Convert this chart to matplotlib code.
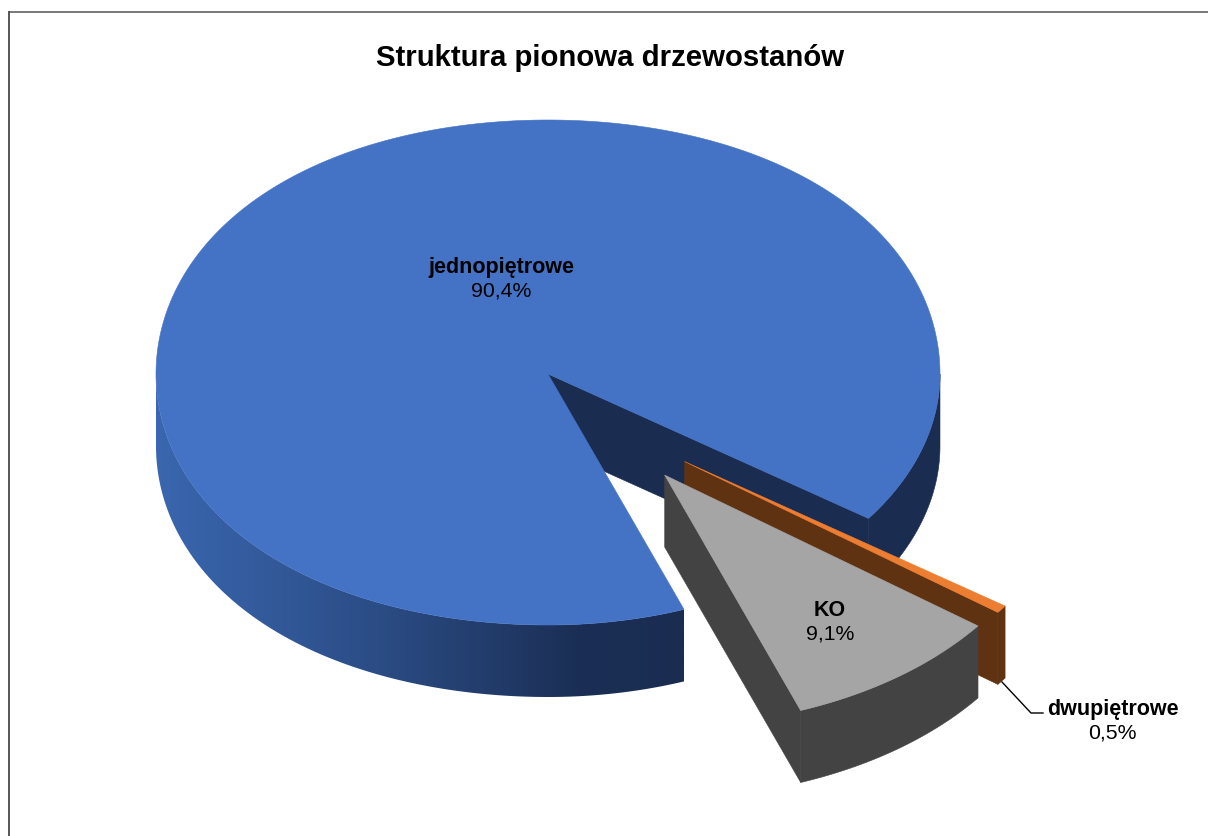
import numpy as np
import matplotlib
matplotlib.use('Agg')
import matplotlib.pyplot as plt
from matplotlib.colors import LinearSegmentedColormap
from matplotlib.patches import Polygon

plt.rcParams['font.family'] = ['Liberation Sans', 'DejaVu Sans']

title = 'Struktura pionowa drzewostanów'
categories = ['jednopiętrowe', 'dwupiętrowe', 'KO']
shares = [90.4, 0.5, 9.1]

# pie geometry, in pixels of the output image
cx, cy = 548.0, 375.0
rx = 392.0
ry_up, ry_low = 254.0, 251.0
depth = 72.0
start_angle = 159.7  # clockwise from 12 o'clock
bulge = 0.014  # rim is a little squarer than an ellipse, except lower right

# exploded slices: distance as a fraction of the radius, and direction
explode = [0.0, 0.49, 0.497]
explode_dir = [0.0, 134.7, 143.2]

blue_top = '#4472C4'
navy = '#1A2C50'
orange_top = '#ED7D31'
brown = '#5F3212'
grey_top = '#A5A5A5'
grey_side = '#434343'


def arc(a0, a1, off=(0.0, 0.0), drop=0.0):
	n = max(int(abs(a1 - a0) * 2), 2)
	deg = np.linspace(a0, a1, n)
	ang = np.radians(deg)
	wrapped = deg % 360.0
	r = 1.0 + bulge * np.sin(2 * ang) ** 2 * ((wrapped < 90.0) | (wrapped > 180.0))
	ry = np.where(np.cos(ang) < 0, ry_low, ry_up)
	x = cx + off[0] + rx * r * np.sin(ang)
	y = cy + off[1] + drop - ry * r * np.cos(ang)
	return np.column_stack([x, y])


def wall(a0, a1, off=(0.0, 0.0)):
	# outer rim between two angles
	return np.vstack([arc(a0, a1, off), arc(a1, a0, off, depth)])


def cut_face(angle, off=(0.0, 0.0)):
	apex = (cx + off[0], cy + off[1])
	edge = arc(angle, angle + 0.01, off)[0]
	return [apex, edge, (edge[0], edge[1] + depth), (apex[0], apex[1] + depth)]


def top_face(a0, a1, off=(0.0, 0.0)):
	return np.vstack([[(cx + off[0], cy + off[1])], arc(a0, a1, off)])


def add(ax, verts, color, z):
	p = Polygon(verts, closed=True, fc=color, ec=color, lw=0.4, zorder=z)
	ax.add_patch(p)
	return p


def offset(i):
	a = np.radians(explode_dir[i])
	return (explode[i] * rx * np.sin(a), -explode[i] * ry_up * np.cos(a))


# slice limits come from the shares, going clockwise
sweeps = np.array(shares) / sum(shares) * 360.0
blue_a0 = start_angle
blue_a1 = blue_a0 + sweeps[0]
orange_a0 = blue_a1
orange_a1 = orange_a0 + sweeps[1]
ko_a0 = orange_a1
ko_a1 = ko_a0 + sweeps[2]

fig = plt.figure(figsize=(12.08, 8.37), dpi=100)
ax = fig.add_axes([0, 0, 1, 1])
ax.set_xlim(0, 1208)
ax.set_ylim(837, 0)
ax.axis('off')

# chart frame, only top and left edges show
ax.plot([9, 1208], [12.7, 12.7], color='#6E6E6E', lw=1.3, zorder=1, solid_capstyle='butt')
ax.plot([9.3, 9.3], [12, 837], color='#484848', lw=1.3, zorder=1, solid_capstyle='butt')

# jednopietrowe
add(ax, cut_face(blue_a1), navy, 2)
add(ax, wall(90.0, blue_a1 - 360.0), navy, 2)
rim = add(ax, wall(blue_a0, 270.0), 'none', 3)
shade = LinearSegmentedColormap.from_list('rim', [
	(0.0, '#3A67B0'), (0.18, '#345C9E'), (0.40, '#2C4E88'),
	(0.62, '#233D6C'), (0.80, '#1B2F56'), (1.0, '#1A2C50')])
img = ax.imshow(np.linspace(0, 1, 256)[None, :], cmap=shade, aspect='auto',
	extent=(cx - rx * 1.01, arc(blue_a0, blue_a0 + 0.01)[0][0], 837, 0), zorder=3)
img.set_clip_path(rim)
add(ax, top_face(blue_a0, blue_a1), blue_top, 4)

# dwupietrowe
off = offset(1)
add(ax, cut_face(orange_a1, off), brown, 5)
add(ax, wall(orange_a0, orange_a1, off), brown, 5)
add(ax, top_face(orange_a0, orange_a1, off), orange_top, 6)

# KO
off = offset(2)
add(ax, cut_face(ko_a1, off), grey_side, 7)
add(ax, wall(ko_a0, ko_a1, off), grey_side, 7)
add(ax, top_face(ko_a0, ko_a1, off), grey_top, 8)

# leader for the small slice
ax.plot([1002, 1031, 1043], [683, 714, 714], color='black', lw=1.0, zorder=9)

ax.text(610.5, 66, title, ha='center', va='baseline', fontsize=21.2, fontweight='bold', color='black', zorder=10)

label_pos = [(501, 273), (1112.5, 715), (830, 616)]
for name, val, (lx, ly) in zip(categories, shares, label_pos):
	ax.text(lx, ly, name, ha='center', va='baseline', fontsize=15.5, fontweight='bold', color='black', zorder=10)
	ax.text(lx, ly + 23.5, f'{val:.1f}%'.replace('.', ','), ha='center', va='baseline', fontsize=15.3, color='black', zorder=10)

fig.savefig('out.png', dpi=100)
